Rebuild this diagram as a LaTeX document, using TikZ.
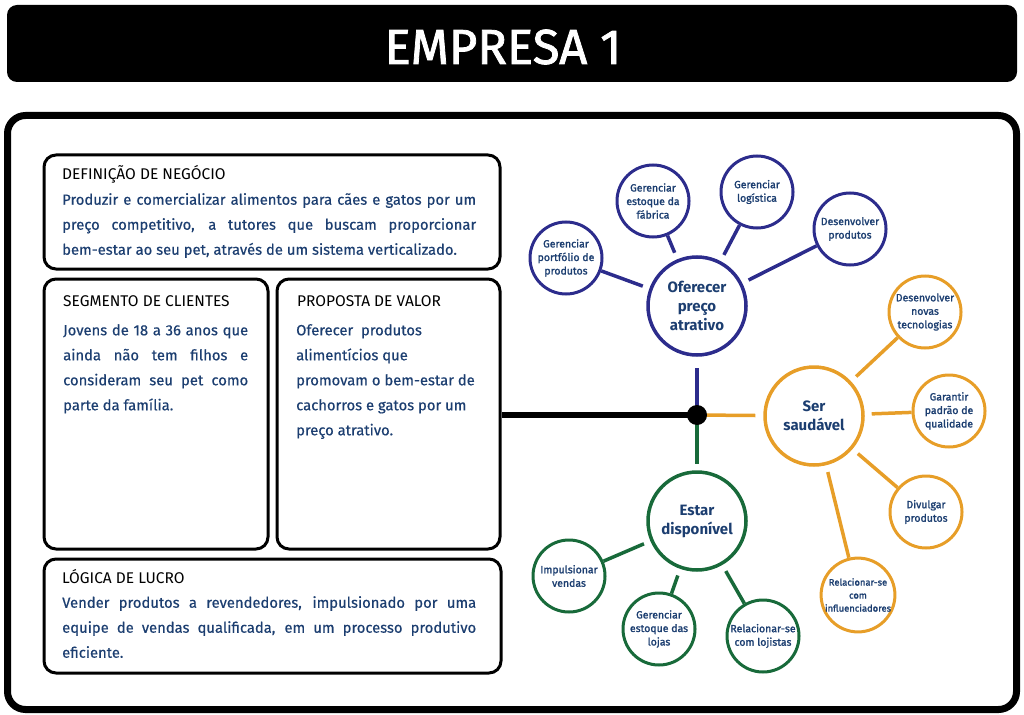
\documentclass[tikz,border=0pt]{standalone}
\usepackage{fontspec}
\setmainfont{Fira Sans}
\newfontfamily\meio{Fira Sans}[FakeBold=1.6]
\newfontfamily\leve{Fira Sans}[FakeBold=0.5]
\usetikzlibrary{positioning,calc}
\definecolor{azul}{RGB}{44,44,140}
\definecolor{laranja}{RGB}{231,158,40}
\definecolor{verde}{RGB}{24,106,58}
\definecolor{texto}{RGB}{28,62,112}
\tikzstyle{caixa}=[draw,line width=3pt,rounded corners=12pt,inner sep=0pt]
\tikzstyle{objetivo}=[circle,draw,line width=3.5pt,minimum size=98pt,inner sep=0pt,text=texto,align=center,font=\fontsize{15}{19}\selectfont\bfseries]
\tikzstyle{acao}=[circle,draw,line width=3pt,minimum size=72pt,inner sep=0pt,text=texto,align=center,font=\fontsize{10.5}{13.5}\selectfont\meio]
\tikzstyle{titulo}=[anchor=base west,inner sep=0pt,font=\fontsize{15.5}{17}\selectfont]
\tikzstyle{corpo}=[anchor=north west,text=texto,inner sep=0pt,font=\fontsize{14.8}{25}\selectfont\leve]
\tikzstyle{ramo}=[line width=3.5pt]

\begin{document}
\begin{tikzpicture}[x=1pt,y=-1pt]
  \useasboundingbox (0,0) rectangle (1024,714);
  % faixa do titulo
  \node[fill=black,rounded corners=10pt,minimum width=1010pt,minimum height=77pt] at (512,43.5) (faixa) {};
  \node[text=white,font=\fontsize{49}{49}\selectfont\meio] at (503,47) (empresa) {EMPRESA 1};
  % moldura
  \node[draw,line width=7pt,rounded corners=18pt,minimum width=1009pt,minimum height=594pt] at (512,412.5) (moldura) {};

  % quadros do lado esquerdo
  \node[caixa,minimum width=456pt,minimum height=114pt] at (272,212) (definicao) {};
  \node[caixa,minimum width=224pt,minimum height=270pt] at (156,414) (segmento) {};
  \node[caixa,minimum width=223pt,minimum height=270pt] at (388.5,414) (proposta) {};
  \node[caixa,minimum width=457pt,minimum height=114pt] at (272.5,616) (logica) {};

  \node[titulo] at (62,179) (t1) {DEFINIÇÃO DE NEGÓCIO};
  \node[corpo,text width=414pt,align=justify] at (62,193) (c1) {Produzir e comercializar alimentos para cães e gatos por um\linebreak preço competitivo, a tutores que buscam proporcionar\linebreak bem-estar ao seu pet, através de um sistema verticalizado.};
  \node[titulo] at (63,306) (t2) {SEGMENTO DE CLIENTES};
  \node[corpo,text width=185pt,align=justify] at (63,324) (c2) {Jovens de 18 a 36 anos que\linebreak ainda não tem filhos e\linebreak consideram seu pet como\linebreak parte da família.};
  \node[titulo] at (297,306) (t3) {PROPOSTA DE VALOR};
  \node[corpo,align=left] at (296,324) (c3) {Oferecer~ produtos\\alimentícios que\\promovam o bem-estar de\\cachorros e gatos por um\\preço atrativo.};
  \node[titulo] at (62,583) (t4) {LÓGICA DE LUCRO};
  \node[corpo,text width=414pt,align=justify] at (62,596) (c4) {Vender produtos a revendedores, impulsionado por uma\linebreak equipe de vendas qualificada, em um processo produtivo\linebreak eficiente.};

  % mapa de objetivos
  \node[objetivo,draw=azul] at (697,306) (preco) {Oferecer\\preço\\atrativo};
  \node[objetivo,draw=laranja] at (814,416) (saudavel) {Ser\\saudável};
  \node[objetivo,draw=verde] at (697,521) (disponivel) {Estar\\disponível};

  \node[acao,draw=azul] at (566,258) (portfolio) {Gerenciar\\portfólio de\\produtos};
  \node[acao,draw=azul] at (653,201) (fabrica) {Gerenciar\\estoque da\\fábrica};
  \node[acao,draw=azul] at (757,192) (logistica) {Gerenciar\\logística};
  \node[acao,draw=azul] at (850,229) (desenvolver) {Desenvolver\\produtos};

  \node[acao,draw=laranja] at (925,312) (tecnologias) {Desenvolver\\novas\\tecnologias};
  \node[acao,draw=laranja] at (949,411) (qualidade) {Garantir\\padrão de\\qualidade};
  \node[acao,draw=laranja] at (926,512) (divulgar) {Divulgar\\produtos};
  \node[acao,draw=laranja,font=\fontsize{9.4}{13}\selectfont\meio] at (858,595) (influencia) {Relacionar-se\\com\\influenciadores};

  \node[acao,draw=verde] at (569,576) (vendas) {Impulsionar\\vendas};
  \node[acao,draw=verde] at (659,629) (lojas) {Gerenciar\\estoque das\\lojas};
  \node[acao,draw=verde] at (763,636) (lojistas) {Relacionar-se\\com lojistas};

  \draw[ramo,azul,shorten >=7pt] (portfolio) -- (preco);
  \draw[ramo,azul,shorten >=7pt] (fabrica) -- (preco);
  \draw[ramo,azul,shorten >=7pt] (logistica) -- (preco);
  \draw[ramo,azul,shorten >=7pt] (desenvolver) -- (preco);
  \draw[ramo,laranja,shorten >=7pt] (tecnologias) -- (saudavel);
  \draw[ramo,laranja,shorten >=7pt] (qualidade) -- (saudavel);
  \draw[ramo,laranja,shorten >=7pt] (divulgar) -- (saudavel);
  \draw[ramo,laranja,shorten >=7pt] (influencia) -- (saudavel);
  \draw[ramo,verde,shorten >=7pt] (vendas) -- (disponivel);
  \draw[ramo,verde,shorten >=7pt] (lojas) -- (disponivel);
  \draw[ramo,verde,shorten >=7pt] (lojistas) -- (disponivel);

  % ligacao central
  \coordinate (centro) at (697,415);
  \draw[line width=6pt] (centro) -- (centro -| proposta.east);
  \draw[ramo,azul,shorten >=11pt] (centro) -- (preco);
  \draw[ramo,laranja,shorten >=8pt] (centro) -- (saudavel);
  \draw[ramo,verde,shorten >=6pt] (centro) -- (disponivel);
  \node[circle,fill=black,minimum size=20pt,inner sep=0pt] at (centro) (no) {};
\end{tikzpicture}
\end{document}
